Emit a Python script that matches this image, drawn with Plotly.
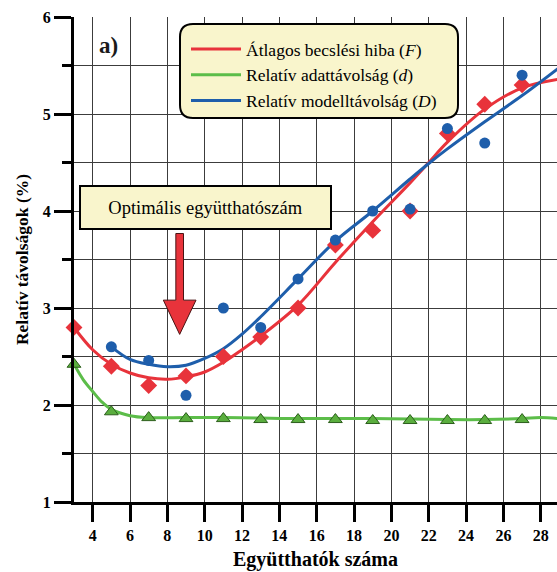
import plotly.graph_objects as go

# Measured points: number of coefficients vs. relative distances (%)
x_pts = [3, 5, 7, 9, 11, 13, 15, 17, 19, 21, 23, 25, 27, 29]
F_pts = [2.80, 2.40, 2.20, 2.30, 2.50, 2.70, 3.00, 3.65, 3.80, 4.00, 4.80, 5.10, 5.30, 5.30]
d_pts = [2.42, 1.93, 1.87, 1.86, 1.86, 1.85, 1.85, 1.85, 1.84, 1.84, 1.84, 1.84, 1.85, 1.84]
xD_pts = [5, 7, 9, 11, 13, 15, 17, 19, 21, 23, 25, 27]
D_pts = [2.60, 2.46, 2.10, 3.00, 2.80, 3.30, 3.70, 4.00, 4.02, 4.85, 4.70, 5.40]

# Fitted trend curves
F_curve_x = [3, 4, 5, 6, 7, 8, 9, 10, 11, 12, 13, 15, 17, 19, 21, 22, 23, 25, 27, 29]
F_curve_y = [2.80, 2.57, 2.42, 2.33, 2.28, 2.265, 2.29, 2.34, 2.44, 2.57, 2.71, 3.03,
             3.47, 3.89, 4.29, 4.50, 4.71, 5.05, 5.27, 5.36]
D_curve_x = [5, 6, 7, 8, 9, 10, 11, 12, 13, 15, 17, 19, 21, 22, 23, 25, 27, 29]
D_curve_y = [2.60, 2.47, 2.42, 2.395, 2.41, 2.48, 2.58, 2.73, 2.91, 3.30, 3.69, 4.00,
             4.33, 4.49, 4.64, 4.92, 5.19, 5.48]
d_curve_x = [3, 3.5, 4, 4.5, 5, 6, 7, 9, 11, 13, 15, 17, 19, 21, 23, 25, 27, 28, 29]
d_curve_y = [2.42, 2.26, 2.14, 2.03, 1.955, 1.89, 1.87, 1.87, 1.87, 1.865, 1.86, 1.86,
             1.86, 1.855, 1.85, 1.85, 1.86, 1.87, 1.86]

x_ticks = list(range(4, 30, 2))

RED = "#e8333b"
GREEN = "#5cbd49"
BLUE = "#1e5eab"
YELLOW = "#f9f5cc"
SERIF = "Liberation Serif, Times New Roman, serif"

W, H = 557, 572
ML, MR, MT, MB = 74, 0, 17, 70
X0, X1 = 3, 3 + (W - ML - MR) / 18.67
Y0, Y1 = 1, 6


def px_x(p):
    return (p - ML) / (W - ML - MR)


def px_y(p):
    return (H - MB - p) / (H - MT - MB)


fig = go.Figure()

# trend curves (these carry the legend)
fig.add_trace(go.Scatter(x=F_curve_x, y=F_curve_y, mode="lines", line=dict(color=RED, width=3, shape="spline"),
                         name="Átlagos becslési hiba (<i>F</i>)"))
fig.add_trace(go.Scatter(x=d_curve_x, y=d_curve_y, mode="lines", line=dict(color=GREEN, width=3, shape="spline"),
                         name="Relatív adattávolság (<i>d</i>)"))
fig.add_trace(go.Scatter(x=D_curve_x, y=D_curve_y, mode="lines", line=dict(color=BLUE, width=3, shape="spline"),
                         name="Relatív modelltávolság (<i>D</i>)"))

# measured markers
fig.add_trace(go.Scatter(x=x_pts, y=d_pts, mode="markers", showlegend=False, cliponaxis=False,
                         marker=dict(symbol="triangle-up", size=12, color="#5aae3e",
                                     line=dict(color="#2c5e1c", width=1))))
fig.add_trace(go.Scatter(x=x_pts, y=F_pts, mode="markers", showlegend=False, cliponaxis=False,
                         marker=dict(symbol="diamond", size=13, color=RED, line=dict(width=0))))
fig.add_trace(go.Scatter(x=xD_pts, y=D_pts, mode="markers", showlegend=False, cliponaxis=False,
                         marker=dict(symbol="circle", size=11, color=BLUE, line=dict(width=0))))

# rounded legend background
lx0, lx1, ly0, ly1, r = 180, 458, 24, 118, 13
path = (f"M{px_x(lx0 + r)},{px_y(ly0)} L{px_x(lx1 - r)},{px_y(ly0)} "
        f"Q{px_x(lx1)},{px_y(ly0)} {px_x(lx1)},{px_y(ly0 + r)} "
        f"L{px_x(lx1)},{px_y(ly1 - r)} Q{px_x(lx1)},{px_y(ly1)} {px_x(lx1 - r)},{px_y(ly1)} "
        f"L{px_x(lx0 + r)},{px_y(ly1)} Q{px_x(lx0)},{px_y(ly1)} {px_x(lx0)},{px_y(ly1 - r)} "
        f"L{px_x(lx0)},{px_y(ly0 + r)} Q{px_x(lx0)},{px_y(ly0)} {px_x(lx0 + r)},{px_y(ly0)} Z")
fig.add_shape(type="path", xref="paper", yref="paper", path=path,
              fillcolor=YELLOW, line=dict(color="black", width=2), layer="above")

# red arrow pointing at the optimum
ax, hw, sw = 8.66, 0.876, 0.205
y_top, y_base, y_tip = 3.768, 3.081, 2.728
arrow = (f"M{ax - sw},{y_top} L{ax + sw},{y_top} L{ax + sw},{y_base} L{ax + hw},{y_base} "
         f"L{ax},{y_tip} L{ax - hw},{y_base} L{ax - sw},{y_base} Z")
fig.add_shape(type="path", xref="x", yref="y", path=arrow, fillcolor=RED,
              line=dict(color="#4a1414", width=1), layer="above")

fig.add_annotation(x=px_x(205.5), y=px_y(207.5), xref="paper", yref="paper",
                   xanchor="center", yanchor="middle",
                   text="Optimális együtthatószám", showarrow=False,
                   font=dict(family=SERIF, size=18.5, color="black"),
                   bgcolor=YELLOW, bordercolor="black", borderwidth=2, borderpad=0,
                   width=249, height=41)
fig.add_annotation(x=px_x(108), y=px_y(45), xref="paper", yref="paper",
                   xanchor="center", yanchor="middle",
                   text="<b>a)</b>", showarrow=False,
                   font=dict(family=SERIF, size=23, color="#1a1a1a"))

axis_font = dict(family=SERIF, size=16, color="black", weight="bold")
fig.update_layout(
    width=W, height=H,
    margin=dict(l=ML, r=MR, t=MT, b=MB),
    paper_bgcolor="white", plot_bgcolor="white",
    font=dict(family=SERIF),
    showlegend=True,
    legend=dict(x=px_x(186), y=px_y(31), xanchor="left", yanchor="top",
                bgcolor="rgba(0,0,0,0)", borderwidth=0, itemwidth=50,
                font=dict(family=SERIF, size=17.5, color="black"), tracegroupgap=0),
    xaxis=dict(range=[X0, X1], tickvals=x_ticks, ticks="outside", ticklen=17, tickwidth=3,
               tickcolor="black", showline=True, linewidth=3, linecolor="black",
               showgrid=True, gridcolor="#3c3c3c", gridwidth=1, zeroline=False,
               tickfont=axis_font,
               title=dict(text="<b>Együtthatók száma</b>", standoff=9,
                          font=dict(family=SERIF, size=20, color="black"))),
    yaxis=dict(range=[Y0, Y1], tick0=1, dtick=1, ticks="outside", ticklen=17, tickwidth=3,
               tickcolor="black", showline=True, linewidth=3, linecolor="black",
               showgrid=True, gridcolor="#3c3c3c", gridwidth=1, zeroline=False,
               tickfont=axis_font,
               minor=dict(dtick=0.5, ticks="outside", ticklen=9, tickwidth=3, tickcolor="black",
                          showgrid=True, gridcolor="#3c3c3c", gridwidth=1),
               title=dict(text="<b>Relatív távolságok (%)</b>", standoff=10,
                          font=dict(family=SERIF, size=17.5, color="black"))),
)

fig.write_html("out.html")
